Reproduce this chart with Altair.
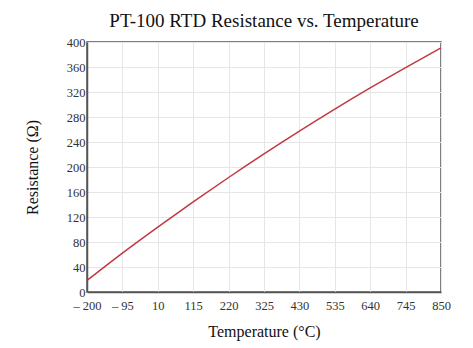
import altair as alt
import pandas as pd

temperature_c = [-200, -95, 10, 115, 220, 325, 430, 535, 640, 745, 850]
resistance_ohm = [18.5, 62.3, 103.9, 144.2, 183.2, 220.9, 257.4, 292.6, 326.5, 359.1, 390.5]
x_ticks = [-200, -95, 10, 115, 220, 325, 430, 535, 640, 745, 850]
y_ticks = [0, 40, 80, 120, 160, 200, 240, 280, 320, 360, 400]

df = pd.DataFrame({"t": temperature_c, "r": resistance_ohm})

FONT = "Liberation Serif"

chart = (
    alt.Chart(df)
    .mark_line(color="#c0393f", strokeWidth=1.5, interpolate="monotone")
    .encode(
        x=alt.X(
            "t:Q",
            scale=alt.Scale(domain=[-200, 850], nice=False, zero=False),
            axis=alt.Axis(
                title="Temperature (°C)",
                values=x_ticks,
                labelExpr="datum.value < 0 ? '\u2013 ' + abs(datum.value) : datum.label",
                ticks=False,
                labelPadding=7,
                titlePadding=12,
                labelOverlap=False,
                labelFlush=False,
                labelBound=False,
            ),
        ),
        y=alt.Y(
            "r:Q",
            scale=alt.Scale(domain=[0, 400], nice=False),
            axis=alt.Axis(
                title="Resistance (Ω)",
                values=y_ticks,
                ticks=False,
                labelPadding=2,
                titlePadding=26,
                labelOverlap=False,
                labelFlush=False,
                labelBound=False,
            ),
        ),
    )
    .properties(
        width=354,
        height=250,
        title=alt.TitleParams(
            "PT-100 RTD Resistance vs. Temperature",
            font=FONT,
            fontSize=19,
            fontWeight="normal",
            color="#111111",
            offset=5,
        ),
        autosize=alt.AutoSizeParams(type="none"),
        padding={"left": 87, "top": 42, "right": 32, "bottom": 56},
    )
    .configure_axis(
        labelFont=FONT,
        titleFont=FONT,
        labelFontSize=12.5,
        titleFontSize=16,
        titleFontWeight="normal",
        labelColor="#333333",
        titleColor="#111111",
        domainColor="#555555",
        domainWidth=1.5,
        gridColor="#e6e6e6",
        gridWidth=1,
    )
    .configure_view(stroke="#555555", strokeWidth=1.5)
)

chart.save("out.html", embed_options={"renderer": "svg", "actions": False})
